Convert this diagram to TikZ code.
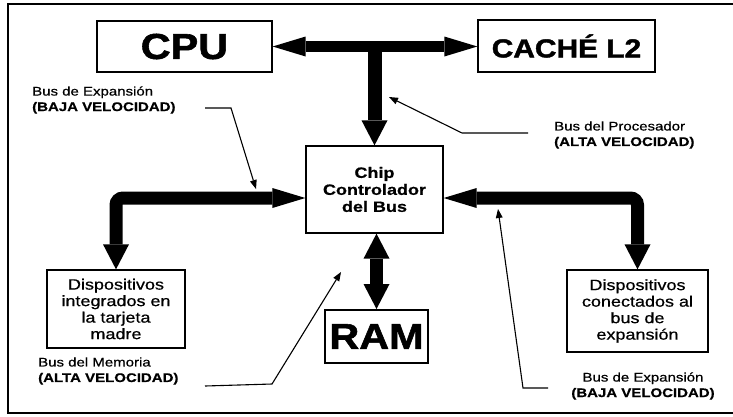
\documentclass[tikz,border=0pt]{standalone}
\usepackage{fontspec}
\setmainfont{Liberation Sans}
\newfontfamily\widesans[FakeStretch=1.2,FakeBold=0.6]{Liberation Sans}
\newfontfamily\heavysans[FakeStretch=1.15,FakeBold=1.6]{Liberation Sans Bold}
\usetikzlibrary{arrows.meta}
\tikzset{
  hhead/.tip={Triangle[width=20pt,length=33pt,line width=0pt]},
  vhead/.tip={Triangle[width=26pt,length=25pt,line width=0pt]},
  smallhead/.tip={Triangle[width=7pt,length=9pt,line width=0pt]},
  box/.style={draw, line width=1.3pt, inner sep=0pt, align=center},
  titlebox/.style={box, font=\heavysans\fontsize{36}{40}\selectfont},
  textbox/.style={box, font=\widesans\fontsize{15}{16.5}\selectfont},
  bus/.style={draw, line width=12pt},
  lbus/.style={draw, line width=13pt, rounded corners=7pt},
  leader/.style={draw, line width=1.1pt, -smallhead},
  note/.style={inner sep=0pt, align=left, font=\widesans\fontsize{12.5}{15.5}\selectfont},
}
\begin{document}
\begin{tikzpicture}[x=1pt, y=-1pt]
\useasboundingbox (0,0) rectangle (733,416);

% frame
\draw[line width=1.8pt] (733,4) -- (8,4) -- (8,413) -- (733,413);

% units
\node[titlebox, minimum width=175pt, minimum height=51pt] (cpu) at (184.5,46.5) {CPU};
\node[box, font=\heavysans\fontsize{26}{30}\selectfont,
      minimum width=177pt, minimum height=52pt] (cache) at (566.5,46) {CACHÉ L2};
\node[box, font=\widesans\bfseries\fontsize{15}{17}\selectfont,
      minimum width=137pt, minimum height=87pt] (chip) at (374.5,189.5)
      {Chip\\Controlador\\del Bus};
\node[textbox, minimum width=138pt, minimum height=78pt] (dev1) at (116,309)
      {Dispositivos\\integrados en\\la tarjeta\\madre};
\node[textbox, minimum width=141pt, minimum height=82pt] (dev2) at (637.5,311)
      {Dispositivos\\conectados al\\bus de\\expansión};
\node[titlebox, line width=2pt, minimum width=103pt, minimum height=53pt] (ram) at (376.5,336.5) {RAM};

% buses
\draw[bus, line width=11pt, hhead-hhead] (cpu.east) -- (cpu.east -| cache.west);
\draw[bus, line width=14pt, -vhead] (chip.north |- cpu.east) -- (chip.north);
\draw[lbus, hhead-vhead] ([yshift=-8.5pt]chip.west) -| (dev1.north);
\draw[lbus, hhead-vhead] ([yshift=-8.5pt]chip.east) -| (dev2.north);
\draw[bus, line width=13pt, vhead-vhead] (ram.north |- chip.south) -- (ram.north);

% notes
\node[note, anchor=west] (n1) at (32,100) {Bus de Expansión\\\textbf{(BAJA VELOCIDAD)}};
\node[note, anchor=west] (n2) at (554,135) {Bus del Procesador\\\textbf{(ALTA VELOCIDAD)}};
\node[note, anchor=west] (n3) at (38,371) {Bus del Memoria\\\textbf{(ALTA VELOCIDAD)}};
\node[note, align=center] (n4) at (643,386) {Bus de Expansión\\\textbf{(BAJA VELOCIDAD)}};

% leader lines
\coordinate (s1) at (205,108); \coordinate (b1) at (231,108); \coordinate (t1) at (256,189);
\coordinate (s2) at (528,133); \coordinate (b2) at (462,133); \coordinate (t2) at (389,97);
\coordinate (s3) at (205,386); \coordinate (b3) at (272,384); \coordinate (t3) at (341,272);
\coordinate (s4) at (548,388); \coordinate (b4) at (523,388); \coordinate (t4) at (498,209);
\draw[leader] (s1) -- (b1) -- (t1);
\draw[leader] (s2) -- (b2) -- (t2);
\draw[leader] (s3) -- (b3) -- (t3);
\draw[leader] (s4) -- (b4) -- (t4);
\end{tikzpicture}
\end{document}
